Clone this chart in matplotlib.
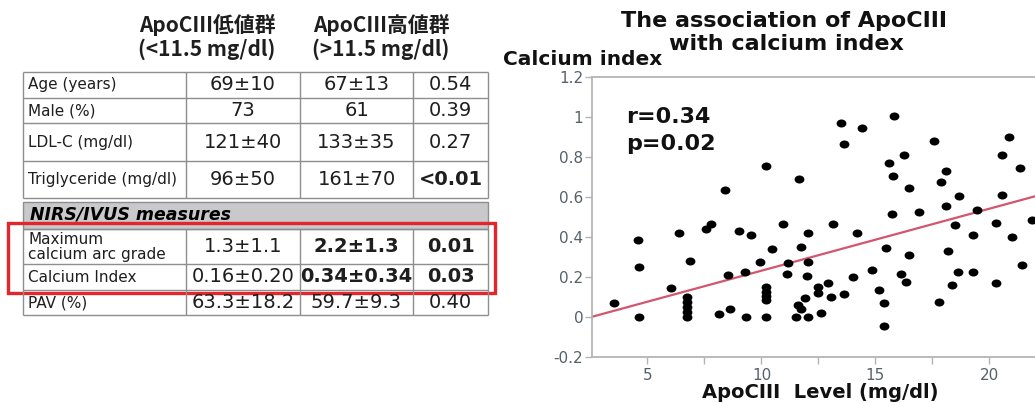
import numpy as np
import matplotlib
matplotlib.use("Agg")
import matplotlib.pyplot as plt
from matplotlib.path import Path
from matplotlib.transforms import Affine2D
from matplotlib.patches import Rectangle

# ---------------- data ----------------
header_low = ["ApoCIII低値群", "(<11.5 mg/dl)"]
header_high = ["ApoCIII高値群", "(>11.5 mg/dl)"]

row_labels = ["Age (years)", "Male (%)", "LDL-C (mg/dl)", "Triglyceride (mg/dl)"]
low_vals = ["69±10", "73", "121±40", "96±50"]
high_vals = ["67±13", "61", "133±35", "161±70"]
p_vals = ["0.54", "0.39", "0.27", "<0.01"]
p_bold = [False, False, False, True]

section_title = "NIRS/IVUS measures"
nirs_labels = ["Maximum\ncalcium arc grade", "Calcium Index", "PAV (%)"]
nirs_low = ["1.3±1.1", "0.16±0.20", "63.3±18.2"]
nirs_high = ["2.2±1.3", "0.34±0.34", "59.7±9.3"]
nirs_p = ["0.01", "0.03", "0.40"]
nirs_bold = [True, True, False]

chart_title = ["The association of ApoCIII", "with calcium index"]
x_label = "ApoCIII  Level (mg/dl)"
y_label = "Calcium index"
r_text = "r=0.34"
p_text = "p=0.02"

apoc3_level = [
    3.52, 4.57, 4.64, 4.64, 6.04, 6.37, 6.85, 6.75, 6.75, 6.75, 6.75, 6.75,
    7.55, 7.77, 8.42, 8.13, 8.55, 8.60, 9.01, 9.26, 9.55, 9.31, 9.93, 10.45,
    10.21, 10.21, 10.21, 10.21, 10.21, 10.95, 11.15, 11.10, 11.72, 11.52,
    11.60, 11.73, 12.03, 12.03, 12.00, 11.92, 12.04, 12.50, 12.50, 12.60,
    12.92, 13.03, 13.12, 13.60, 14.02, 14.20, 14.87, 15.17, 15.37, 15.36,
    15.45, 15.73, 16.10, 16.33, 16.48, 16.48, 16.92, 17.77, 17.87, 18.08,
    18.17, 18.48, 18.37, 18.62, 18.68, 19.46, 19.30, 19.30, 20.30, 20.30,
    20.57, 20.98, 21.44, 21.87,
    10.22, 11.66, 13.50, 13.62, 14.41, 15.80, 15.60, 16.24, 15.78, 17.58,
    18.10, 20.56, 20.88, 21.35,
]
calcium_index = [
    0.07, 0.386, 0.25, 0.0, 0.143, 0.42, 0.278, 0.0, 0.025, 0.05, 0.075, 0.10,
    0.438, 0.463, 0.634, 0.016, 0.21, 0.04, 0.428, 0.226, 0.407, 0.0, 0.275, 0.338,
    0.15, 0.125, 0.105, 0.085, 0.0, 0.465, 0.27, 0.212, 0.35, 0.0,
    0.058, 0.04, 0.418, 0.275, 0.202, 0.096, 0.0, 0.15, 0.118, 0.018,
    0.168, 0.097, 0.464, 0.112, 0.197, 0.42, 0.232, 0.135, 0.068, -0.045,
    0.342, 0.515, 0.214, 0.172, 0.31, 0.645, 0.522, 0.072, 0.673, 0.553,
    0.328, 0.457, 0.16, 0.222, 0.604, 0.535, 0.41, 0.224, 0.467, 0.167,
    0.607, 0.40, 0.26, 0.482,
    0.752, 0.69, 0.968, 0.862, 0.946, 1.002, 0.77, 0.806, 0.702, 0.878,
    0.73, 0.81, 0.898, 0.742,
]
trend_intercept = -0.080
trend_slope = 0.031

x_ticks = [5, 10, 15, 20]
x_minor_ticks = [7.5, 12.5, 17.5]
y_ticks = [-0.2, 0, 0.2, 0.4, 0.6, 0.8, 1.0, 1.2]
y_tick_labels = ["-0.2", "0", "0.2", "0.4", "0.6", "0.8", "1", "1.2"]

# ---------------- figure ----------------
W, H = 1035, 403
fig = plt.figure(figsize=(W / 100, H / 100), dpi=100)
fig.patch.set_facecolor("white")

# overlay axes in pixel coordinates for the table
tab = fig.add_axes([0, 0, 1, 1])
tab.set_xlim(0, W)
tab.set_ylim(H, 0)
tab.axis("off")

line_c = "#8e8e8e"
txt_c = "#1e1e1e"
col_x = [22.7, 186, 300, 413, 488]
col_c = [(col_x[i] + col_x[i + 1]) / 2 for i in range(1, 4)]
top_rows = [72, 98, 123, 161, 198]
band_top, band_bot = 201.5, 229
bot_rows = [229, 264, 290, 315]

cjk = ["Noto Sans CJK JP", "DejaVu Sans"]
for cx, lines in [(207, header_low), (381, header_high)]:
    tab.text(cx, 32, lines[0], ha="center", va="baseline", fontsize=15,
             fontweight="bold", family=cjk, color=txt_c)
    tab.text(cx, 56, lines[1], ha="center", va="baseline", fontsize=15,
             fontweight="bold", family=cjk, color=txt_c)

def draw_grid(rows):
    for y in rows:
        tab.plot([col_x[0], col_x[-1]], [y, y], color=line_c, lw=1.0,
                 solid_capstyle="butt")
    for x in col_x:
        tab.plot([x, x], [rows[0], rows[-1]], color=line_c, lw=1.0,
                 solid_capstyle="butt")

draw_grid(top_rows)
tab.add_patch(Rectangle((col_x[0], band_top), col_x[-1] - col_x[0],
                        band_bot - band_top, facecolor="#c9c9cb",
                        edgecolor=line_c, lw=1.0))
draw_grid(bot_rows)

def fill_rows(rows, labels, lows, highs, ps, bolds_p, bold_high):
    for i, lab in enumerate(labels):
        yc = (rows[i] + rows[i + 1]) / 2
        tab.text(28, yc, lab, ha="left", va="center", fontsize=11,
                 color=txt_c, linespacing=1.0)
        tab.text(col_c[0], yc, lows[i], ha="center", va="center",
                 fontsize=14, color=txt_c)
        tab.text(col_c[1], yc, highs[i], ha="center", va="center",
                 fontsize=14, color=txt_c,
                 fontweight="bold" if bold_high[i] else "normal")
        tab.text(col_c[2], yc, ps[i], ha="center", va="center",
                 fontsize=14, color=txt_c,
                 fontweight="bold" if bolds_p[i] else "normal")

fill_rows(top_rows, row_labels, low_vals, high_vals, p_vals, p_bold,
          [False] * 4)
tab.text(30, (band_top + band_bot) / 2 - 1, section_title, ha="left",
         va="center", fontsize=12.5, fontweight="bold", fontstyle="italic",
         color="black")
fill_rows(bot_rows, nirs_labels, nirs_low, nirs_high, nirs_p, nirs_bold,
          nirs_bold)

tab.add_patch(Rectangle((8.3, 223.3), 486.7, 70, fill=False,
                        edgecolor="#e3262b", lw=2.4))

# chart titles and labels (pixel coordinates)
tab.text(784, 27, chart_title[0], ha="center", va="baseline", fontsize=16,
         fontweight="bold", color="#111111")
tab.text(786, 50, chart_title[1], ha="center", va="baseline", fontsize=16,
         fontweight="bold", color="#111111")
tab.text(503, 65, y_label, ha="left", va="baseline", fontsize=14.5,
         fontweight="bold", color="#111111")
tab.text(820, 398, x_label, ha="center", va="baseline", fontsize=14,
         fontweight="bold", color="#111111")

# ---------------- scatter ----------------
left_px, right_px, top_px, bot_px = 592.3, 1035, 76.7, 356.7
ax = fig.add_axes([left_px / W, (H - bot_px) / H, (right_px - left_px) / W,
                   (bot_px - top_px) / H])
ax.set_xlim(2.58, 22.0)
ax.set_ylim(-0.2, 1.2)
ax.patch.set_alpha(0)

circ = Path.unit_circle()
ell = Path(Affine2D().scale(1.22, 1.0).transform(circ.vertices), circ.codes)
ax.scatter(apoc3_level, calcium_index, s=50, marker=ell, c="black",
           linewidths=0, zorder=3)

xs = np.array(ax.get_xlim())
ax.plot(xs, trend_intercept + trend_slope * xs, color="#d3566f", lw=1.6,
        zorder=2)

ax.text(4.05, 0.97, r_text, ha="left", va="baseline", fontsize=16,
        fontweight="bold", color="#111111")
ax.text(4.05, 0.834, p_text, ha="left", va="baseline", fontsize=16,
        fontweight="bold", color="#111111")

ax.set_xticks(x_ticks)
ax.set_xticks(x_minor_ticks, minor=True)
ax.set_yticks(y_ticks)
ax.set_yticklabels(y_tick_labels)
spine_c = "#b4b4b4"
for side in ["left", "bottom", "top"]:
    ax.spines[side].set_color(spine_c)
    ax.spines[side].set_linewidth(1.3)
ax.spines["right"].set_visible(False)
ax.tick_params(axis="both", which="both", direction="out", length=5,
               width=1, color=spine_c, labelcolor="#56606a", labelsize=11)
ax.tick_params(axis="y", pad=1.5)
ax.tick_params(axis="x", pad=3)

fig.savefig("out.png", dpi=100, facecolor="white")
